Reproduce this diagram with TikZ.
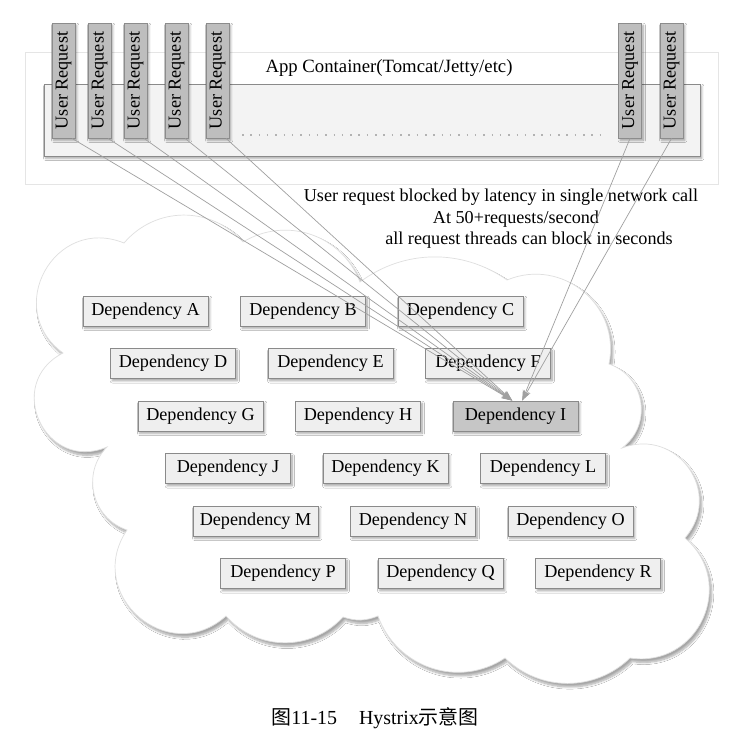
\documentclass[tikz,border=0pt]{standalone}
\usepackage{fontspec}
\usepackage{graphicx}
\setmainfont{Liberation Serif}
\newfontfamily\cjk{Noto Sans CJK SC}
\usetikzlibrary{arrows.meta,shadows.blur}

\definecolor{depfill}{HTML}{EFEFEF}
\definecolor{depline}{HTML}{8A8A8A}
\definecolor{hotfill}{HTML}{C6C6C6}
\definecolor{reqfill}{HTML}{BEBEBE}
\definecolor{reqline}{HTML}{8C8C8C}
\definecolor{wire}{HTML}{A0A0A0}
\definecolor{boxfill}{HTML}{F3F3F3}

\tikzset{
  softshadow/.style={blur shadow={shadow xshift=1.5pt, shadow yshift=-2pt,
      shadow opacity=35, shadow blur steps=6}},
  dep/.style={draw=depline, fill=depfill, line width=0.8pt, softshadow,
      minimum width=3.75cm, minimum height=0.9cm, inner sep=0pt,
      font=\fontsize{15.5}{18}\selectfont},
  hot/.style={dep, fill=hotfill},
  ureq/.style={draw=reqline, fill=reqfill, line width=0.8pt, softshadow,
      minimum width=0.69cm, minimum height=3.45cm, inner sep=0pt,
      font=\fontsize{15.5}{18}\selectfont},
  req/.style={draw=wire, line width=0.6pt, -{Stealth[length=9pt,width=6pt]}},
  note/.style={font=\fontsize{15.5}{18}\selectfont, inner sep=0pt},
}

\begin{document}
\begin{tikzpicture}[x=0.03cm, y=-0.03cm]
      \useasboundingbox[fill=white] (0,0) rectangle (728,736);

      % App container
      \draw[gray!20, line width=0.6pt] (25,52) rectangle (718,184);
      \draw[depline, fill=boxfill, line width=0.8pt, softshadow] (44,84) rectangle (700,156);
      \node[note, font=\fontsize{16}{19}\selectfont] (app) at (389,68) {App Container(Tomcat/Jetty/etc)};

      % Dots between the request threads
      \coordinate (dotsL) at (242,135);
      \coordinate (dotsR) at (605,135);
      \draw[gray!60, line width=1.3pt, dash pattern=on 1.3pt off 5.8pt] (dotsL) -- (dotsR);

      % User requests
      \foreach \x [count=\i] in {63.5,99.5,135.5,176.5,217.5,630,671.5}
      \node[ureq] (u\i) at (\x,80.5) {\rotatebox{90}{User Request}};

      % Cloud of dependencies
      \draw[gray!25, fill=white, line width=0.6pt,
          blur shadow={shadow xshift=2pt, shadow yshift=-3pt, shadow opacity=35, shadow blur steps=8}]
        (63,353)
        to[bend left=83,looseness=1.52] (124,243)
        to[bend left=49,looseness=1.04] (243,242)
        to[bend left=50,looseness=1.05] (360,282)
        to[bend left=36,looseness=0.95] (507,280)
        to[bend left=62,looseness=1.16] (609,364)
        to[bend left=62,looseness=1.16] (622,448)
        to[bend left=76,looseness=1.38] (685,538)
        to[bend left=74,looseness=1.34] (630,658)
        to[bend left=44,looseness=1.0] (505,658)
        to[bend left=52,looseness=1.06] (378,616)
        to[bend left=20] (343,617)
        to[bend left=48,looseness=1.03] (226,616)
        to[bend left=83,looseness=1.52] (127,530)
        to[bend left=58,looseness=1.11] (107,447)
        to[bend left=88,looseness=1.65] (63,353) -- cycle;

      % Dependencies, three per row
      \foreach \name/\look [count=\i from 0] in {A/dep,B/dep,C/dep,D/dep,E/dep,F/dep,
          G/dep,H/dep,I/hot,J/dep,K/dep,L/dep,M/dep,N/dep,O/dep,P/dep,Q/dep,R/dep} {
          \pgfmathtruncatemacro\row{int(\i/3)}
          \pgfmathtruncatemacro\col{mod(\i,3)}
          \node[\look] (dep\name) at ({145.5+157.5*\col+27.5*\row},{311+52.5*\row}) {Dependency \name};
        }

      % Notes
      \node[note] (note1) at (501,197) {User request blocked by latency in single network call};
      \node[note] (note2) at (516,219) {At 50+requests/second};
      \node[note] (note3) at (529,240) {all request threads can block in seconds};

      % Requests all end up waiting on dependency I
      \foreach \i in {1,...,5}
      \draw[req] ([xshift=-0.1cm]u\i.south east) -- ([xshift=-0.1cm]depI.north);
      \foreach \i in {6,7}
      \draw[req] (u\i.south) -- ([xshift=0.2cm]depI.north);

      % Caption
      \node[font=\fontsize{17}{20}\selectfont, inner sep=0pt] (caption) at (375,718)
        {{\cjk 图}11-15\hspace{1.1em}Hystrix{\cjk 示意图}};
    \end{tikzpicture}
\end{document}
